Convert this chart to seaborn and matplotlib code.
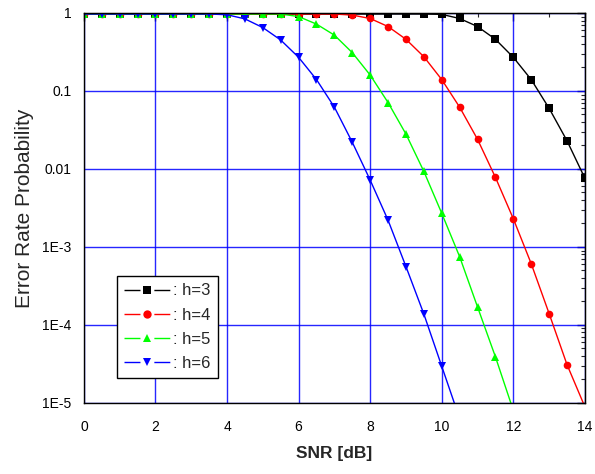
import numpy as np
import pandas as pd
import matplotlib
matplotlib.use("Agg")
import matplotlib.pyplot as plt
import matplotlib.ticker as mticker
from matplotlib.lines import Line2D
import seaborn as sns

snr = [0, 0.5, 1, 1.5, 2, 2.5, 3, 3.5, 4, 4.5, 5, 5.5, 6, 6.5, 7, 7.5, 8, 8.5, 9, 9.5, 10, 10.5, 11, 11.5, 12, 12.5, 13, 13.5, 14]

h3 = [0.97, 0.97, 0.97, 0.97, 0.97, 0.97, 0.97, 0.97, 0.97, 0.97, 0.97, 0.97, 0.97, 0.97, 0.97, 0.97, 0.97, 0.97, 0.97, 0.97,
      0.96, 0.85, 0.67, 0.46, 0.27, 0.14, 0.06, 0.023, 0.0076]
h4 = [0.97, 0.97, 0.97, 0.97, 0.97, 0.97, 0.97, 0.97, 0.97, 0.97, 0.97, 0.97, 0.97, 0.97, 0.97, 0.94,
      0.85, 0.67, 0.46, 0.275, 0.14, 0.062, 0.024, 0.0078, 0.0023, 6.1e-4, 1.4e-4, 3.1e-5, 8.9e-6]
h5 = [0.97, 0.97, 0.97, 0.97, 0.97, 0.97, 0.97, 0.97, 0.97, 0.97, 0.97, 0.97,
      0.90, 0.72, 0.52, 0.31, 0.16, 0.071, 0.028, 0.0093, 0.0027, 7.5e-4, 1.7e-4, 3.9e-5, 8e-6]
h6 = [0.97, 0.97, 0.97, 0.97, 0.97, 0.97, 0.97, 0.97, 0.95,
      0.84, 0.65, 0.45, 0.27, 0.14, 0.062, 0.022, 0.0072, 0.0022, 5.6e-4, 1.38e-4, 2.95e-5, 6.3e-6]

labels = [": h=3", ": h=4", ": h=5", ": h=6"]
colors = ["black", "#ff0000", "#00ff00", "#0000ff"]
markers = ["s", "o", "^", "v"]

ytick_vals = [1e-5, 1e-4, 1e-3, 1e-2, 1e-1, 1]
ytick_labels = ["1E-5", "1E-4", "1E-3", "0.01", "0.1", "1"]
xtick_vals = [0, 2, 4, 6, 8, 10, 12, 14]

frames = []
for lab, vals in zip(labels, [h3, h4, h5, h6]):
    frames.append(pd.DataFrame({"snr": snr[:len(vals)], "p": vals, "series": lab}))
df = pd.concat(frames, ignore_index=True)

sns.set_style("white")
plt.rcParams["font.family"] = ["Liberation Sans", "DejaVu Sans"]

fig = plt.figure(figsize=(5.95, 4.74), dpi=100)
ax = fig.add_axes([0.141, 0.150, 0.842, 0.8226])

sns.lineplot(data=df, x="snr", y="p", hue="series", style="series",
             palette=dict(zip(labels, colors)), markers=dict(zip(labels, markers)),
             dashes=False, markersize=5.5, markeredgewidth=0, linewidth=1,
             ax=ax, legend=False)

ax.set_yscale("log")
ax.set_xlim(0, 14)
ax.set_ylim(1e-5, 1)
ax.set_yticks(ytick_vals)
ax.set_yticklabels(ytick_labels)
ax.set_xticks(xtick_vals)
ax.set_xticklabels([str(v) for v in xtick_vals])
ax.xaxis.set_minor_locator(mticker.MultipleLocator(1))
ax.yaxis.set_minor_locator(mticker.LogLocator(base=10, subs=np.arange(2, 10), numticks=20))
ax.yaxis.set_minor_formatter(mticker.NullFormatter())

ax.grid(True, which="major", color="#0000ff", linewidth=1, alpha=0.85)
ax.set_axisbelow(True)
for s in ax.spines.values():
    s.set_color("black")
    s.set_linewidth(1)

ax.tick_params(which="major", direction="out", length=6, width=1, labelsize=10,
               top=False, right=False, colors="black")
ax.tick_params(which="minor", direction="out", length=3, width=0.8, top=False, right=False)
ax.tick_params(axis="x", which="major", pad=6)
ax.tick_params(axis="y", which="major", pad=3)

# mirrored inward ticks on top and right
sec_x = ax.secondary_xaxis("top")
sec_x.set_xticks(xtick_vals)
sec_x.xaxis.set_minor_locator(mticker.MultipleLocator(1))
sec_x.tick_params(which="major", direction="in", length=6, width=1, labeltop=False)
sec_x.tick_params(which="minor", direction="in", length=3, width=0.8)
sec_y = ax.secondary_yaxis("right")
sec_y.set_yticks(ytick_vals)
sec_y.yaxis.set_minor_locator(mticker.LogLocator(base=10, subs=np.arange(2, 10), numticks=20))
sec_y.yaxis.set_minor_formatter(mticker.NullFormatter())
sec_y.tick_params(which="major", direction="in", length=6, width=1, labelright=False)
sec_y.tick_params(which="minor", direction="in", length=3, width=0.8)

ax.set_xlabel("SNR [dB]", fontsize=12.5, fontweight="bold", labelpad=9)
ax.set_ylabel("Error Rate Probability", fontsize=15, labelpad=6)

handles = [Line2D([0], [0], color=c, marker=m, markersize=6, markeredgewidth=0,
                  linewidth=1, linestyle=(0, (11.5, 10, 11.5, 10)))
           for c, m in zip(colors, markers)]
leg = ax.legend(handles, labels, loc="lower left", bbox_to_anchor=(0.066, 0.064),
                fontsize=12, frameon=True, fancybox=False, edgecolor="black",
                framealpha=1, handlelength=2.75, handletextpad=0.2, borderpad=0.42,
                labelspacing=0.55, borderaxespad=0)
leg.get_frame().set_linewidth(1)

fig.savefig("out.png", dpi=100)
